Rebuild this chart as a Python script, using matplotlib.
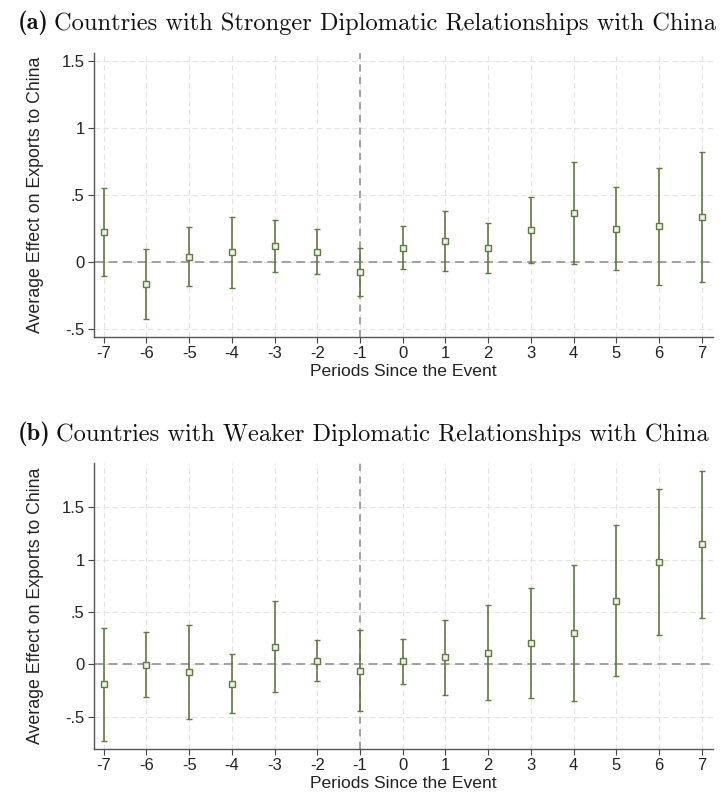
import matplotlib
matplotlib.use("Agg")
import matplotlib.pyplot as plt
import numpy as np

# --- Event-study estimates ---
periods = np.arange(-7, 8)

strong_coef = [0.226, -0.162, 0.037, 0.072, 0.117, 0.075, -0.072, 0.107,
               0.159, 0.107, 0.236, 0.363, 0.249, 0.269, 0.338]
strong_hi = [0.555, 0.097, 0.259, 0.336, 0.311, 0.246, 0.107, 0.266,
             0.383, 0.293, 0.483, 0.746, 0.562, 0.701, 0.823]
strong_lo = [-0.104, -0.420, -0.181, -0.189, -0.077, -0.092, -0.251, -0.052,
             -0.065, -0.080, -0.005, -0.017, -0.062, -0.169, -0.151]

weak_coef = [-0.188, -0.007, -0.074, -0.185, 0.165, 0.035, -0.067, 0.029,
             0.070, 0.111, 0.207, 0.299, 0.608, 0.975, 1.146]
weak_hi = [0.350, 0.309, 0.372, 0.098, 0.605, 0.235, 0.325, 0.239,
           0.424, 0.564, 0.729, 0.949, 1.328, 1.672, 1.850]
weak_lo = [-0.733, -0.310, -0.520, -0.468, -0.265, -0.163, -0.449, -0.188,
           -0.290, -0.338, -0.319, -0.354, -0.112, 0.277, 0.442]

ytick_vals = [-0.5, 0, 0.5, 1, 1.5]
ytick_labels = ['-.5', '0', '.5', '1', '1.5']

panel_tags = ['(a)', '(b)']
panel_titles = ['Countries with Stronger Diplomatic Relationships with China',
                'Countries with Weaker Diplomatic Relationships with China']

SANS = 'Liberation Sans'
OLIVE = '#5f7a45'

fig = plt.figure(figsize=(7.21, 7.96), dpi=100)
ax_a = fig.add_axes([0.1308, 0.577, 0.858, 0.357])
ax_b = fig.add_axes([0.1308, 0.0594, 0.858, 0.3585])


def draw_panel(ax, coef, lo, hi, ylim, tag, title, title_y):
    coef = np.asarray(coef)
    err = [coef - np.asarray(lo), np.asarray(hi) - coef]

    # reference lines
    ax.axhline(0, color='#9a9a9a', lw=1.3, ls=(0, (5, 3)), zorder=2)
    ax.axvline(-1, color='#9a9a9a', lw=1.3, ls=(0, (4, 3)), zorder=2)

    ax.errorbar(periods, coef, yerr=err, fmt='s', color=OLIVE, ecolor=OLIVE,
                elinewidth=1.2, capsize=2.2, capthick=1.0,
                markersize=4.2, markerfacecolor='#eef2e4',
                markeredgecolor=OLIVE, markeredgewidth=1.0, zorder=3)

    ax.set_xlim(-7.22, 7.26)
    ax.set_ylim(*ylim)
    ax.set_xticks(periods)
    ax.set_xticklabels([str(p) for p in periods], fontsize=12, family=SANS,
                       color='#222222')
    ax.set_yticks(ytick_vals)
    ax.set_yticklabels(ytick_labels, fontsize=12, family=SANS, color='#222222')
    ax.tick_params(direction='out', length=4, width=0.8, color='#444444', pad=3)

    ax.grid(True, color='#e4e4e4', lw=0.8, ls=(0, (5, 3)), zorder=0)
    ax.set_axisbelow(True)
    for s in ['top', 'right']:
        ax.spines[s].set_visible(False)
    for s in ['left', 'bottom']:
        ax.spines[s].set_color('#555555')
        ax.spines[s].set_linewidth(1.0)

    ax.set_xlabel('Periods Since the Event', fontsize=12.6, family=SANS,
                  color='#222222', labelpad=2)
    ax.set_ylabel('Average Effect on Exports to China', fontsize=12.8,
                  family=SANS, color='#222222', labelpad=13)

    # panel heading: bold tag followed by regular title
    t = fig.text(0.024, title_y, tag, family='cmb10', fontsize=17.6,
                 ha='left', va='baseline', color='#111111')
    ax.annotate(title, xy=(1, 0), xycoords=t, xytext=(4, 0),
                textcoords='offset points', ha='left', va='bottom',
                family='cmr10', fontsize=17.6, color='#111111',
                annotation_clip=False)


draw_panel(ax_a, strong_coef, strong_lo, strong_hi, (-0.555, 1.56),
           panel_tags[0], panel_titles[0], 0.963)
draw_panel(ax_b, weak_coef, weak_lo, weak_hi, (-0.806, 1.92),
           panel_tags[1], panel_titles[1], 0.447)

fig.savefig('out.png', dpi=100, facecolor='white')
